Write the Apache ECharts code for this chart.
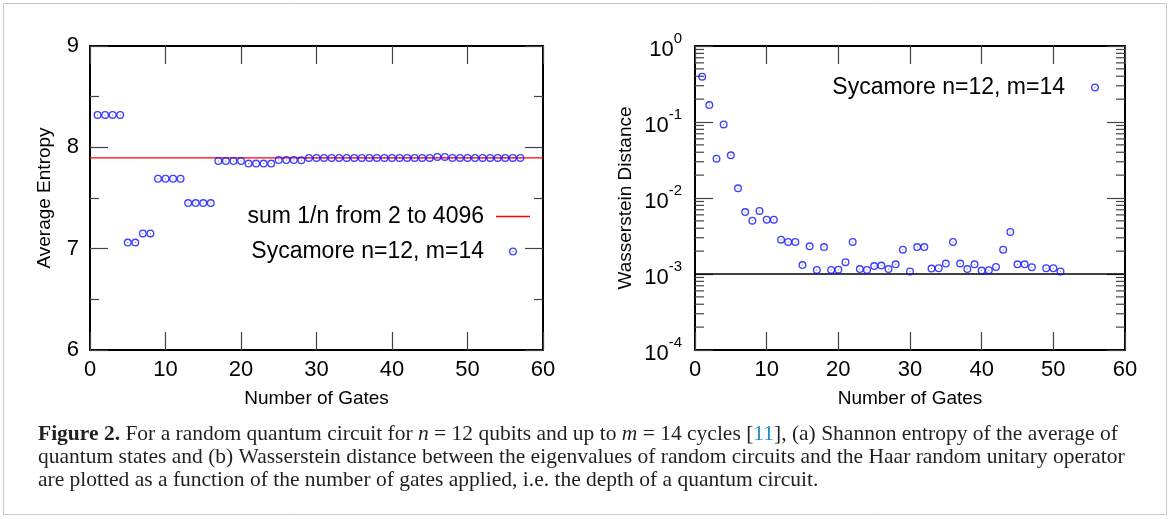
<!DOCTYPE html>
<html><head><meta charset="utf-8">
<script src="https://cdn.jsdelivr.net/npm/echarts@6/dist/echarts.min.js"></script>
<style>html,body{margin:0;padding:0;background:#fff}#c{width:1171px;height:519px}</style>
</head><body><div id="c"></div>
<script>
// ---- data ----
const gatesA = [1,2,3,4,5,6,7,8,9,10,11,12,13,14,15,16,17,18,19,20,21,22,23,24,25,26,27,28,29,30,31,32,33,34,35,36,37,38,39,40,41,42,43,44,45,46,47,48,49,50,51,52,53,54,55,56,57];
const entropy = [8.32,8.32,8.32,8.32,7.06,7.06,7.15,7.15,7.69,7.69,7.69,7.69,7.45,7.45,7.45,7.45,7.865,7.865,7.865,7.865,7.84,7.84,7.84,7.84,7.875,7.875,7.875,7.872,7.895,7.895,7.895,7.895,7.895,7.895,7.895,7.895,7.895,7.895,7.895,7.895,7.895,7.895,7.895,7.895,7.895,7.905,7.905,7.895,7.895,7.895,7.895,7.895,7.895,7.895,7.895,7.895,7.895];
const entropyRef = 7.895; // sum 1/n from 2 to 4096
const gatesB = [1,2,3,4,5,6,7,8,9,10,11,12,13,14,15,16,17,18,19,20,21,22,23,24,25,26,27,28,29,30,31,32,33,34,35,36,37,38,39,40,41,42,43,44,45,46,47,48,49,50,51];
const wasserstein = [0.395,0.167,0.0329,0.093,0.0365,0.0134,0.00654,0.00503,0.00675,0.00518,0.00518,0.00283,0.00264,0.00264,0.00131,0.00231,0.00113,0.00226,0.00113,0.00114,0.00143,0.00264,0.00116,0.00113,0.00127,0.00129,0.00116,0.00134,0.00209,0.00108,0.00226,0.00226,0.00118,0.00119,0.00137,0.00264,0.00137,0.00116,0.00134,0.00111,0.00112,0.00124,0.00209,0.00357,0.00134,0.00134,0.00123,null,0.00119,0.00119,0.00108];
const haarLevel = 0.001;
const xRange = [0, 60];
const logMinorTicks = [0.0002,0.0003,0.0004,0.0005,0.0006,0.0007,0.0008,0.0009,0.002,0.003,0.004,0.005,0.006,0.007,0.008,0.009,0.02,0.03,0.04,0.05,0.06,0.07,0.08,0.09,0.2,0.3,0.4,0.5,0.6,0.7,0.8,0.9];
const nameSyc = 'Sycamore n=12, m=14';
const nameRef = 'sum 1/n from 2 to 4096';

// ---- styles ----
const SANS = 'Liberation Sans';
const SERIF = 'Liberation Serif';
const BLUE = '#0f0fff';
const RED = '#ff0000';
const TICK = '#444';
const ringPath = 'path://M10,0A10,10 0 1,1 10,20A10,10 0 1,1 10,0ZM10,3.4A6.6,6.6 0 1,0 10,16.6A6.6,6.6 0 1,0 10,3.4ZM10,8.7A1.3,1.3 0 1,1 10,11.3A1.3,1.3 0 1,1 10,8.7Z';

function xAx(grid, pos, labels) {
  return {
    type: 'value', gridIndex: grid, position: pos, min: xRange[0], max: xRange[1], interval: 10,
    axisLine: {show: true, onZero: false, lineStyle: {color: '#000', width: 2}},
    axisTick: {show: true, inside: true, length: 18, lineStyle: {color: TICK, width: 1.2}},
    axisLabel: {show: labels, fontSize: 22, fontFamily: SANS, color: '#000', margin: 9},
    splitLine: {show: false},
    name: labels ? 'Number of Gates' : '', nameLocation: 'middle', nameGap: 39,
    nameTextStyle: {fontSize: 19, fontFamily: SANS, color: '#000'}
  };
}
function yLin(pos, labels) {
  return {
    type: 'value', gridIndex: 0, position: pos, min: 6, max: 9, interval: 1,
    axisLine: {show: true, onZero: false, lineStyle: {color: '#000', width: 2}},
    axisTick: {show: true, inside: true, length: 18, lineStyle: {color: TICK, width: 1.2}},
    minorTick: {show: true, splitNumber: 2, length: 9, lineStyle: {color: TICK, width: 1.2}},
    axisLabel: {show: labels, fontSize: 22, fontFamily: SANS, color: '#000', margin: 11},
    splitLine: {show: false},
    name: labels ? 'Average Entropy' : '', nameLocation: 'middle', nameGap: 36,
    nameTextStyle: {fontSize: 19, fontFamily: SANS, color: '#000'}
  };
}
function yLog(pos, labels) {
  return {
    type: 'log', logBase: 10, gridIndex: 1, position: pos, min: 0.0001, max: 1,
    axisLine: {show: true, onZero: false, lineStyle: {color: '#000', width: 2}},
    axisTick: {show: true, inside: true, length: 18, lineStyle: {color: TICK, width: 1.2}},
    axisLabel: {
      show: labels, margin: 13,
      formatter: v => '{b|10}{s|' + Math.round(Math.log10(v)) + '}',
      rich: {
        b: {fontSize: 22, fontFamily: SANS, color: '#000', lineHeight: 30, verticalAlign: 'bottom'},
        s: {fontSize: 15, fontFamily: SANS, color: '#000', lineHeight: 30, verticalAlign: 'top'}
      }
    },
    splitLine: {show: false},
    name: labels ? 'Wasserstein Distance' : '', nameLocation: 'middle', nameGap: 60,
    nameTextStyle: {fontSize: 19, fontFamily: SANS, color: '#000'}
  };
}

const chart = echarts.init(document.getElementById('c'), null, {renderer: 'canvas'});
chart.setOption({
  animation: false,
  backgroundColor: '#fff',
  grid: [
    {left: 90, top: 46, width: 453, height: 304},
    {left: 695, top: 46, width: 430, height: 304}
  ],
  xAxis: [xAx(0, 'bottom', true), xAx(0, 'top', false), xAx(1, 'bottom', true), xAx(1, 'top', false)],
  yAxis: [yLin('left', true), yLin('right', false), yLog('left', true), yLog('right', false)],
  legend: [
    {
      data: [{name: nameRef, icon: 'path://M0,0H34V1.3H0Z', itemStyle: {color: RED}}, {name: nameSyc}],
      orient: 'vertical', align: 'right', right: 636, top: 200,
      itemWidth: 34, itemHeight: 8, itemGap: 12, selectedMode: false,
      textStyle: {fontSize: 23, fontFamily: SANS, color: '#000', padding: [0, 7, 0, 0]}
    },
    {
      data: [{name: nameSyc}],
      orient: 'vertical', align: 'right', right: 67, top: 71,
      itemWidth: 34, itemHeight: 8, selectedMode: false,
      textStyle: {fontSize: 23, fontFamily: SANS, color: '#000', padding: [0, 8, 0, 0]}
    }
  ],
  series: [
    {
      name: nameRef, type: 'line', xAxisIndex: 0, yAxisIndex: 0,
      data: xRange.map(x => [x, entropyRef]), symbol: 'none', silent: true,
      color: RED, lineStyle: {color: RED, width: 1.2}, z: 1
    },
    {
      name: nameSyc, type: 'scatter', xAxisIndex: 0, yAxisIndex: 0,
      data: gatesA.map((g, i) => [g, entropy[i]]),
      symbol: ringPath, symbolSize: 8, color: BLUE, z: 3
    },
    {
      name: 'haar', type: 'line', xAxisIndex: 2, yAxisIndex: 2,
      data: xRange.map(x => [x, haarLevel]), symbol: 'none', silent: true,
      lineStyle: {color: '#000', width: 1.5}, z: 1
    },
    {
      name: nameSyc, type: 'scatter', xAxisIndex: 2, yAxisIndex: 2,
      data: gatesB.map((g, i) => [g, wasserstein[i]]).filter(d => d[1] != null),
      symbol: ringPath, symbolSize: 8, color: BLUE, z: 3
    },
    {
      name: 'minorTicks', type: 'custom', xAxisIndex: 2, yAxisIndex: 2, silent: true, z: 2,
      data: logMinorTicks.map(v => [xRange[0], v]),
      renderItem: (params, api) => {
        const v = api.value(1);
        const pL = api.coord([xRange[0], v]);
        const pR = api.coord([xRange[1], v]);
        const st = {stroke: TICK, lineWidth: 1.2};
        return {type: 'group', children: [
          {type: 'line', shape: {x1: pL[0], y1: pL[1], x2: pL[0] + 9, y2: pL[1]}, style: st},
          {type: 'line', shape: {x1: pR[0] - 9, y1: pR[1], x2: pR[0], y2: pR[1]}, style: st}
        ]};
      }
    }
  ],
  graphic: [
    {type: 'rect', silent: true, shape: {x: 3.5, y: 3.5, width: 1163, height: 511},
     style: {fill: 'none', stroke: '#c8c8c8', lineWidth: 1}},
    {type: 'text', left: 38, top: 423, silent: true,
     style: {
       text: '{b|Figure 2.} For a random quantum circuit for {i|n} = 12 qubits and up to {i|m} = 14 cycles [{l|11}], (a) Shannon entropy of the average of\nquantum states and (b) Wasserstein distance between the eigenvalues of random circuits and the Haar random unitary operator\nare plotted as a function of the number of gates applied, i.e. the depth of a quantum circuit.',
       fontSize: 21.5, fontFamily: SERIF, fill: '#231f20', lineHeight: 23,
       rich: {
         b: {fontSize: 21.5, fontFamily: SERIF, fontWeight: 'bold', fill: '#231f20', lineHeight: 23},
         i: {fontSize: 21.5, fontFamily: SERIF, fontStyle: 'italic', fill: '#231f20', lineHeight: 23},
         l: {fontSize: 21.5, fontFamily: SERIF, fill: '#1a8bc9', lineHeight: 23}
       }
     }}
  ]
});
</script></body></html>
